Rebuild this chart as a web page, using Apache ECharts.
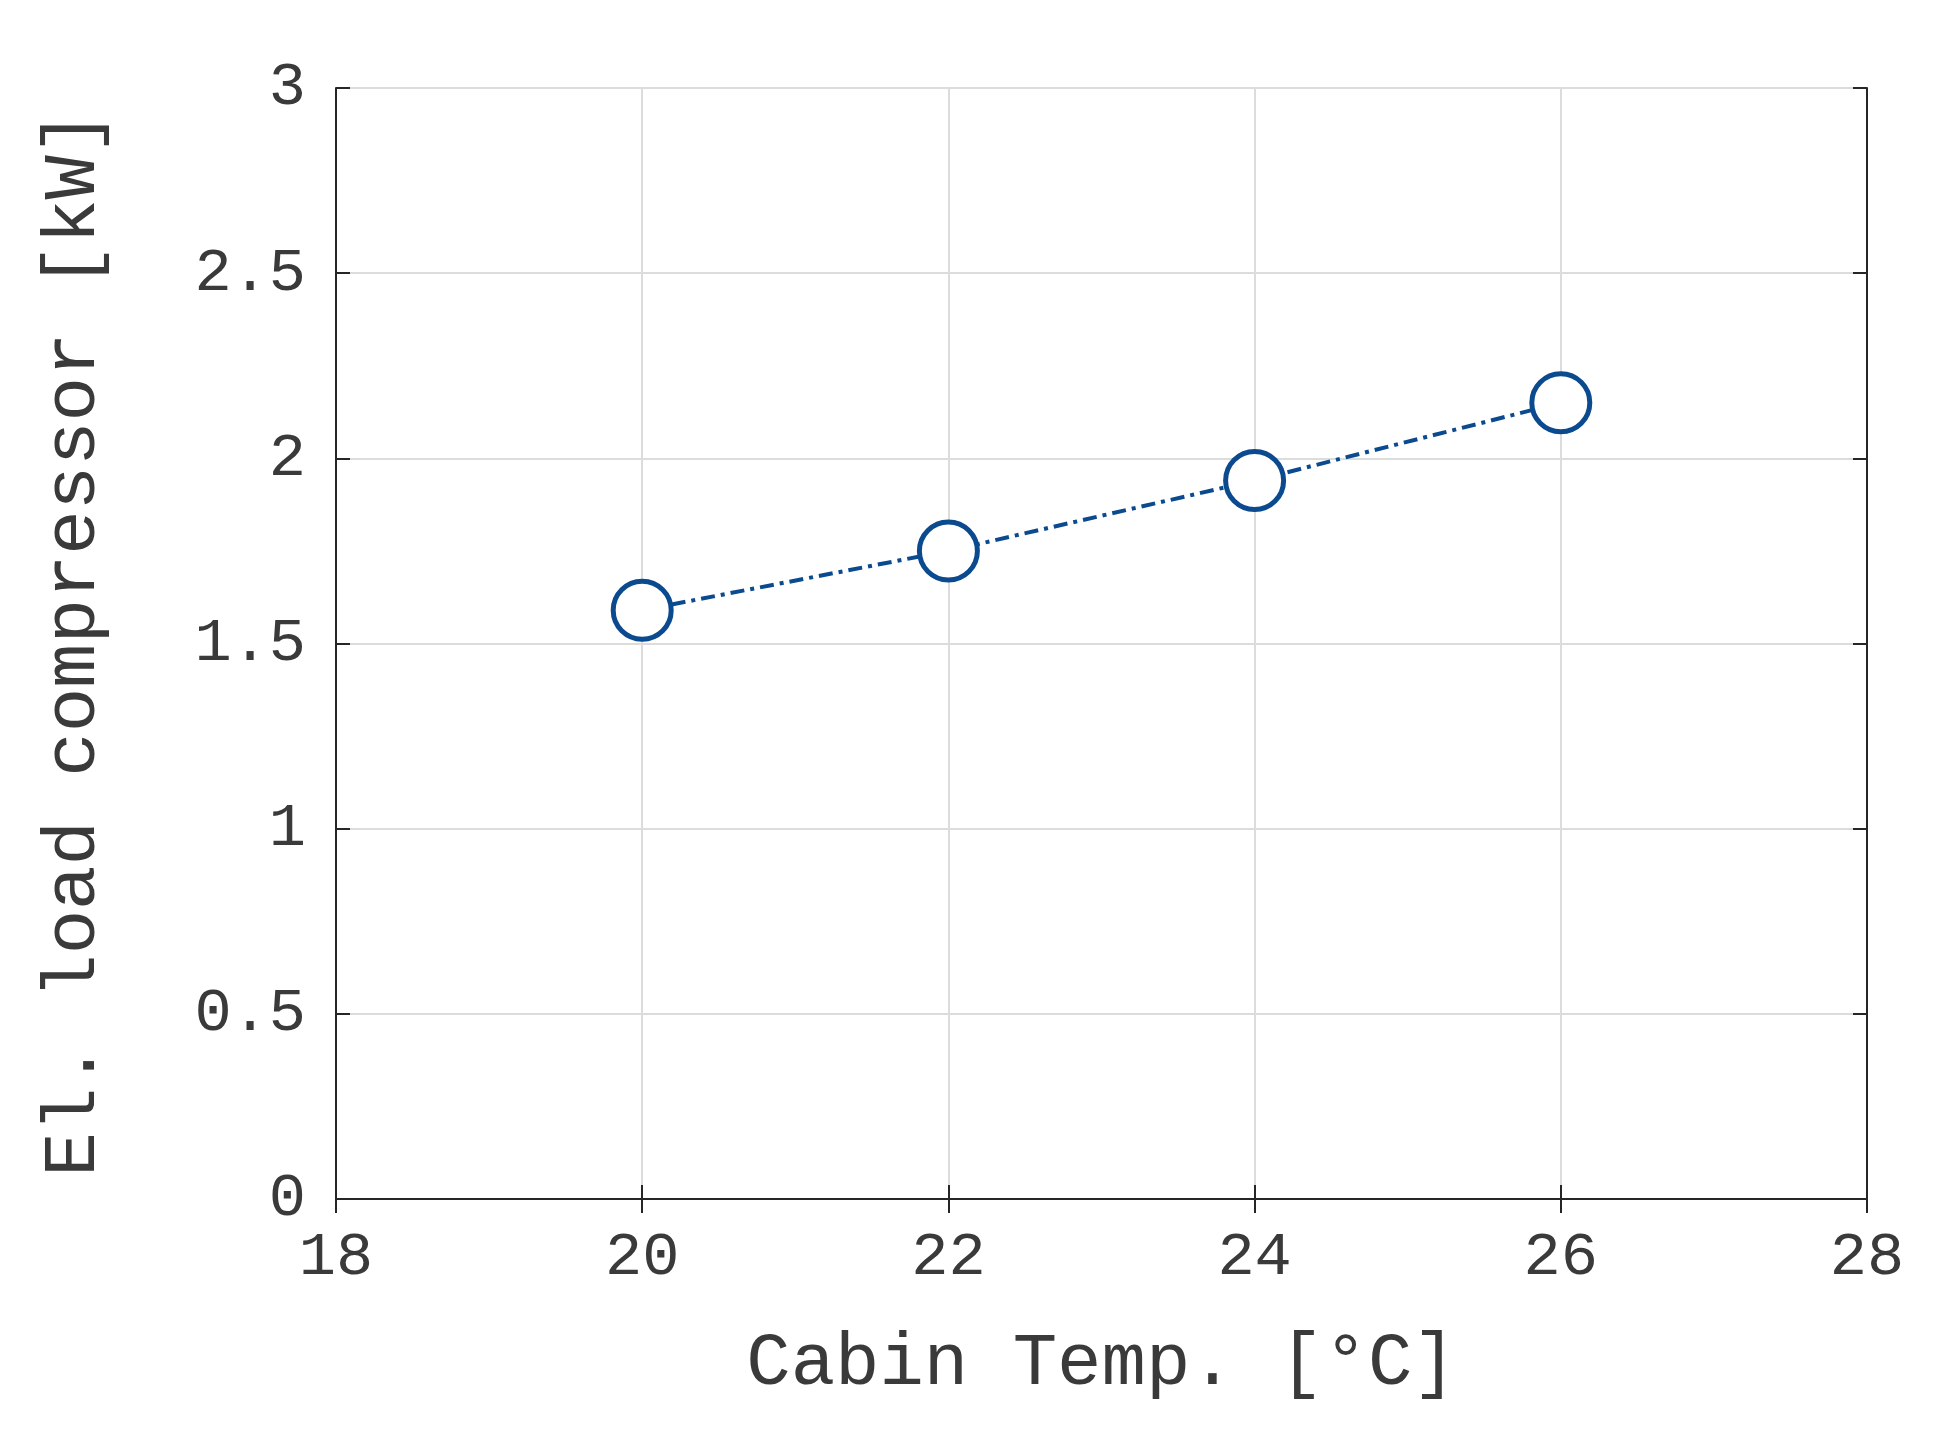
<!DOCTYPE html>
<html>
<head>
<meta charset="utf-8">
<script src="https://cdn.jsdelivr.net/npm/echarts@6/dist/echarts.min.js"></script>
<style>html,body{margin:0;padding:0;background:#fff}#chart{width:1942px;height:1430px}</style>
</head>
<body>
<div id="chart"></div>
<script>
var cabinTemp = [20, 22, 24, 26];
var elLoad = [1.59, 1.75, 1.94, 2.15];
var xTicks = [18, 20, 22, 24, 26, 28];
var yTicks = [0, 0.5, 1, 1.5, 2, 2.5, 3];

var chart = echarts.init(document.getElementById('chart'));
var font = 'Liberation Mono';
var axisLine = { show: true, lineStyle: { color: '#262626', width: 2 } };
var tick = { show: true, inside: true, length: 14, lineStyle: { color: '#262626', width: 2 } };
var option = {
	backgroundColor: '#fff',
	grid: { left: 336, right: 75, top: 88, bottom: 231 },
	xAxis: [{
		type: 'value', min: 18, max: 28, interval: 2,
		name: 'Cabin Temp. [°C]', nameLocation: 'middle', nameGap: 128,
		nameTextStyle: { fontFamily: font, fontSize: 74, color: '#3a3a3a' },
		axisLine: axisLine, axisTick: tick,
		axisLabel: { margin: 28, fontFamily: font, fontSize: 62, color: '#3a3a3a' },
		splitLine: { show: true, lineStyle: { color: '#dcdcdc', width: 2 } }
	}, {
		type: 'value', position: 'top', min: 18, max: 28, interval: 2,
		axisLine: axisLine, axisTick: tick, axisLabel: { show: false }, splitLine: { show: false }
	}],
	yAxis: [{
		type: 'value', min: 0, max: 3, interval: 0.5,
		name: 'El. load compressor [kW]', nameLocation: 'middle', nameGap: 225,
		nameTextStyle: { fontFamily: font, fontSize: 74, color: '#3a3a3a' },
		axisLine: axisLine, axisTick: tick,
		axisLabel: { margin: 30, fontFamily: font, fontSize: 62, color: '#3a3a3a' },
		splitLine: { show: true, lineStyle: { color: '#dcdcdc', width: 2 } }
	}, {
		type: 'value', position: 'right', min: 0, max: 3, interval: 0.5,
		axisLine: axisLine, axisTick: tick, axisLabel: { show: false }, splitLine: { show: false }
	}],
	series: [{
		type: 'line',
		data: cabinTemp.map(function (t, i) { return [t, elLoad[i]]; }),
		symbol: 'circle', symbolSize: 58,
		itemStyle: { color: '#fff', borderColor: '#0b4a8f', borderWidth: 5 },
		lineStyle: { color: '#0b4a8f', width: 4, type: [14, 6, 4, 6] },
		z: 3
	}]
};
chart.setOption(option);
</script>
</body>
</html>
